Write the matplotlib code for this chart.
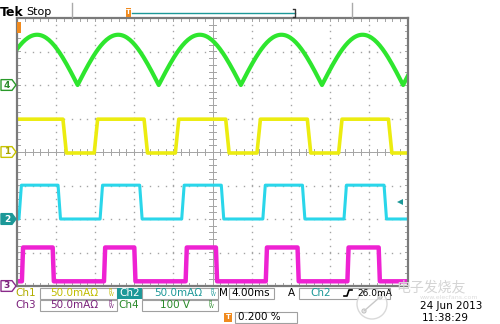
import numpy as np
import matplotlib.pyplot as plt
import matplotlib.transforms as mtransforms
from matplotlib.patches import Rectangle, Polygon, Circle

# screen: 10 x 8 divisions, 4 ms/div
n_xdiv, n_ydiv = 10, 8
ms_per_div = 4.0

# Ch4 - rectified mains, 100 V/div: zero points (ms), baseline and peak (div)
ch4_zero_ms = [-2.1, 6.2, 14.5, 22.9, 31.2, 39.5, 47.8]
ch4_base = 2.0
ch4_peak = 1.5

# Ch1 - 50 mA/div
ch1_fall_ms = [4.7, 13.0, 21.35, 29.7, 38.0]
ch1_rise_ms = [7.9, 16.2, 24.55, 32.9]
ch1_levels = (-0.03, 0.98)

# Ch2 - 50 mA/div
ch2_rise_ms = [0.2, 8.5, 16.85, 25.15, 33.45]
ch2_fall_ms = [4.2, 12.55, 20.9, 29.2, 37.55]
ch2_levels = (-2.0, -0.99)

# Ch3 - 50 mA/div
ch3_rise_ms = [0.5, 8.9, 17.25, 25.45, 33.8]
ch3_fall_ms = [3.65, 12.0, 20.35, 28.7, 37.0]
ch3_levels = (-3.86, -2.85)

# ground markers on the left (div)
marker_pos = {'4': 2.0, '1': 0.0, '2': -2.0, '3': -4.0}

GREEN = '#2ee62e'
YELLOW = '#ecec10'
CYAN = '#2ad6ea'
MAGENTA = '#ee22d2'
TEAL = '#1c9898'
GRID = '#a4a4a4'


def square(rises, falls, levels, edge, t_end=40.0):
    lo, hi = levels
    events = sorted([(t, 1) for t in rises] + [(t, 0) for t in falls])
    level = lo if events[0][1] == 1 else hi
    xs, ys = [0.0], [level]
    for t, up in events:
        new = hi if up else lo
        xs += [t, t + edge]
        ys += [level, new]
        level = new
    xs.append(t_end)
    ys.append(level)
    return xs, ys


def arches(zeros, base, peak):
    xs, ys = [], []
    for a, b in zip(zeros[:-1], zeros[1:]):
        t = np.linspace(a, b, 60)
        xs.append(t)
        ys.append(base + peak * np.sin(np.pi * (t - a) / (b - a)))
    return np.concatenate(xs), np.concatenate(ys)


fig = plt.figure(figsize=(5, 3.24), dpi=100)
fig.patch.set_facecolor('white')

# graticule area in pixels: x 17..408, y 18..286
ax = fig.add_axes([17 / 500, 1 - 286 / 324, 391 / 500, 268 / 324], zorder=1)
ax.set_xlim(0, n_xdiv * ms_per_div)
ax.set_ylim(-n_ydiv / 2, n_ydiv / 2)
ax.set_xticks([])
ax.set_yticks([])
for s in ax.spines.values():
    s.set_color('#7a7a7a')
    s.set_linewidth(1.6)

xmax = n_xdiv * ms_per_div
ymax = n_ydiv / 2
# dotted division lines
for k in range(1, n_xdiv):
    x = k * ms_per_div
    if k == n_xdiv // 2:
        continue
    yy = np.arange(-ymax, ymax + 0.01, 0.2)
    ax.plot(np.full_like(yy, x), yy, ls='none', marker='s', ms=1.0, color=GRID, mew=0)
for k in range(-3, 4):
    if k == 0:
        continue
    xx = np.arange(0, xmax + 0.01, ms_per_div / 5)
    ax.plot(xx, np.full_like(xx, k), ls='none', marker='s', ms=1.0, color=GRID, mew=0)

# centre axes with minor ticks
ax.axhline(0, color=GRID, lw=0.7)
ax.axvline(xmax / 2, color=GRID, lw=0.7)
for x in np.arange(0, xmax + 0.01, ms_per_div / 5):
    ax.plot([x, x], [-0.1, 0.1], color=GRID, lw=0.7)
    ax.plot([x, x], [ymax - 0.09, ymax], color=GRID, lw=0.7)
    ax.plot([x, x], [-ymax, -ymax + 0.09], color=GRID, lw=0.7)
for y in np.arange(-ymax, ymax + 0.01, 0.2):
    ax.plot([xmax / 2 - 0.35, xmax / 2 + 0.35], [y, y], color=GRID, lw=0.7)
    ax.plot([0, 0.3], [y, y], color=GRID, lw=0.7)
    ax.plot([xmax - 0.3, xmax], [y, y], color=GRID, lw=0.7)

# traces
x4, y4 = arches(ch4_zero_ms, ch4_base, ch4_peak)
ax.plot(x4, y4, color=GREEN, lw=3.0, solid_joinstyle='round')
x1, y1 = square(ch1_rise_ms, ch1_fall_ms, ch1_levels, 0.35)
ax.plot(x1, y1, color=YELLOW, lw=2.6)
x2, y2 = square(ch2_rise_ms, ch2_fall_ms, ch2_levels, 0.25)
ax.plot(x2, y2, color=CYAN, lw=2.2)
x3, y3 = square(ch3_rise_ms, ch3_fall_ms, ch3_levels, 0.12)
ax.plot(x3, y3, color=MAGENTA, lw=3.2)

# trigger level arrow (Ch2) and trigger position marker
ax.plot([39.2], [-1.5], marker='<', ms=5, color=TEAL, mew=0)
ax.add_patch(Rectangle((0, 3.55), 0.45, 0.32, color='#f08a1e', lw=0, zorder=5))

# overlay in pixel coordinates for the readouts
ov = fig.add_axes([0, 0, 1, 1], zorder=3)
ov.set_xlim(0, 500)
ov.set_ylim(324, 0)
ov.axis('off')

ov.text(0, 12, 'Tek', fontsize=9, fontweight='bold', va='center', ha='left')
ov.text(26, 12, 'Stop', fontsize=8, va='center', ha='left')
ov.plot([72, 72], [3, 17], color='#aaaaaa', lw=1)
ov.plot([352, 352], [3, 17], color='#aaaaaa', lw=1)
ov.plot([132, 295], [13, 13], color=TEAL, lw=1)
ov.plot([293, 295, 295, 293], [9, 9, 17, 17], color='#333333', lw=1)
ov.add_patch(Rectangle((125.5, 8), 5, 9, color='#f08a1e', lw=0))
ov.text(128, 12.5, 'T', fontsize=5, color='white', ha='center', va='center', fontweight='bold')

# channel ground markers
blend = mtransforms.blended_transform_factory(ov.transData, ax.transData)
marker_style = {'4': ('white', '#2a9a2a', '#2a8a2a'),
                '1': ('white', '#c8c400', '#a8a400'),
                '2': (TEAL, TEAL, 'white'),
                '3': ('white', '#8a2a8a', '#7a207a')}
for name, pos in marker_pos.items():
    face, edge, txt = marker_style[name]
    h = 0.16
    pts = [(1, pos - h), (12, pos - h), (16, pos), (12, pos + h), (1, pos + h)]
    ov.add_patch(Polygon(pts, closed=True, facecolor=face, edgecolor=edge, lw=1,
                         transform=blend, clip_on=False, zorder=4))
    ov.text(7, pos, name, transform=blend, fontsize=6.5, fontweight='bold', color=txt,
            ha='center', va='center', zorder=5)

# readout rows
fs = 7.5
def box(x0, x1, y, h=11):
    ov.add_patch(Rectangle((x0, y - h / 2), x1 - x0, h, fill=False, edgecolor='#a0a0a0', lw=0.8))

r1, r2, r3 = 293, 305, 317
ov.text(15, r1, 'Ch1', fontsize=fs, color='#b0ac00', va='center')
box(40, 117, r1)
ov.text(50, r1, '50.0mA\u03a9', fontsize=fs, color='#c0bc00', va='center')
ov.text(108, r1, r'$^{\mathsf{B}}_{\mathsf{W}}$', fontsize=5, color='#c0bc00', va='center')
ov.add_patch(Rectangle((117, r1 - 5.5), 25, 11, color=TEAL, lw=0))
ov.text(119, r1, 'Ch2', fontsize=fs, color='white', va='center')
box(142, 218, r1)
ov.text(154, r1, '50.0mA\u03a9', fontsize=fs, color=TEAL, va='center')
ov.text(210, r1, r'$^{\mathsf{B}}_{\mathsf{W}}$', fontsize=5, color=TEAL, va='center')
ov.text(219, r1, 'M', fontsize=fs, color='black', va='center')
box(229, 274, r1)
ov.text(231, r1, '4.00ms', fontsize=fs, color='black', va='center')
ov.text(288, r1, 'A', fontsize=fs, color='black', va='center')
box(299, 390, r1)
ov.text(310, r1, 'Ch2', fontsize=fs, color=TEAL, va='center')
ov.plot([344, 347, 349, 352], [r1 + 3, r1 + 3, r1 - 3, r1 - 3], color='black', lw=1.2)
ov.text(357, r1, '26.0mA', fontsize=6.5, color='black', va='center')

ov.text(15, r2, 'Ch3', fontsize=fs, color='#7a207a', va='center')
box(40, 117, r2)
ov.text(50, r2, '50.0mA\u03a9', fontsize=fs, color='#7a207a', va='center')
ov.text(108, r2, r'$^{\mathsf{B}}_{\mathsf{W}}$', fontsize=5, color='#7a207a', va='center')
ov.text(118, r2, 'Ch4', fontsize=fs, color='#2a8a2a', va='center')
box(142, 218, r2)
ov.text(160, r2, '100 V', fontsize=fs, color='#2a8a2a', va='center')
ov.text(208, r2, r'$^{\mathsf{B}}_{\mathsf{W}}$', fontsize=5, color='#2a8a2a', va='center')

ov.add_patch(Rectangle((224, r3 - 4.5), 8, 9, color='#f08a1e', lw=0))
ov.text(228, r3, 'T', fontsize=5, color='white', ha='center', va='center', fontweight='bold')
box(235, 297, r3)
ov.text(238, r3, '0.200 %', fontsize=fs, color='black', va='center')

ov.text(420, r2 + 1, '24 Jun 2013', fontsize=fs, color='black', va='center')
ov.text(422, r3 + 1, '11:38:29', fontsize=fs, color='black', va='center')

# site watermark
ov.add_patch(Circle((372, 304), 15, facecolor='white', edgecolor='#d0d0d0', lw=1, alpha=0.8))
ov.plot([364, 380], [311, 297], color='#c8c8c8', lw=1)
ov.add_patch(Circle((364, 311), 2, facecolor='white', edgecolor='#c0c0c0', lw=0.8))
ov.add_patch(Circle((380, 297), 2, facecolor='white', edgecolor='#c0c0c0', lw=0.8))
ov.text(396, 287, '电子发烧友', fontsize=10, color='#d4d4d4', va='center',
        family=['Noto Sans CJK SC', 'DejaVu Sans'], fontstyle='italic')
ov.text(420, 297.5, 'www.elecfans.com', fontsize=4.5, color='#dddddd', va='center')

fig.savefig('out.png', dpi=100)
